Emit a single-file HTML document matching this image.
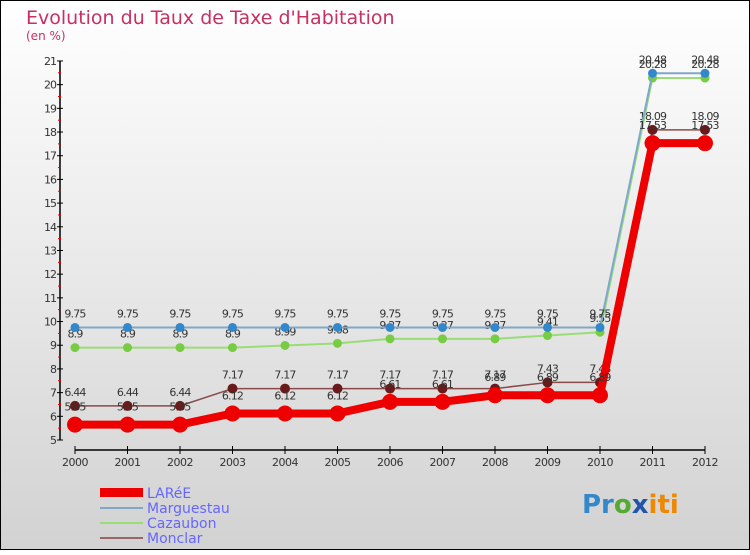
<!DOCTYPE html>
<html><head><meta charset="utf-8"><style>
body{margin:0}
svg text{font-family:"DejaVu Sans","Liberation Sans",sans-serif}
</style></head><body>
<svg width="750" height="550" xmlns="http://www.w3.org/2000/svg">
<defs><linearGradient id="bg" x1="0" y1="0" x2="0" y2="1"><stop offset="0" stop-color="#ffffff"/><stop offset="1" stop-color="#d2d2d2"/></linearGradient></defs>
<rect x="0.5" y="0.5" width="749" height="549" fill="url(#bg)" stroke="#000"/>
<text x="26" y="24" font-size="19" fill="#c8305f">Evolution du Taux de Taxe d'Habitation</text>
<text x="26" y="40" font-size="12" fill="#c8305f">(en %)</text>
<g id="axes"></g><g id="series"></g>
<g>
<rect x="100" y="488" width="43" height="9" fill="#ee0000"/>
<text x="147" y="498" font-size="14" fill="#6666ff">LARéE</text>
<line x1="100" x2="143" y1="508" y2="508" stroke="#7fa8c8" stroke-width="2"/>
<text x="147" y="513" font-size="14" fill="#6666ff">Marguestau</text>
<line x1="100" x2="143" y1="523" y2="523" stroke="#99dd77" stroke-width="2"/>
<text x="147" y="528" font-size="14" fill="#6666ff">Cazaubon</text>
<line x1="100" x2="143" y1="538" y2="538" stroke="#996666" stroke-width="2"/>
<text x="147" y="543" font-size="14" fill="#6666ff">Monclar</text>
</g>
<text x="582" y="513" font-size="26" font-weight="bold"><tspan fill="#3388cc">Pr</tspan><tspan fill="#55aa33">o</tspan><tspan fill="#2255aa">x</tspan><tspan fill="#ee8800">iti</tspan></text>
</svg>
<script>
const years=["2000","2001","2002","2003","2004","2005","2006","2007","2008","2009","2010","2011","2012"];
const yTicks=[5,6,7,8,9,10,11,12,13,14,15,16,17,18,19,20,21];
const laree=[5.65,5.65,5.65,6.12,6.12,6.12,6.61,6.61,6.89,6.89,6.89,17.53,17.53];
const marguestau=[9.75,9.75,9.75,9.75,9.75,9.75,9.75,9.75,9.75,9.75,9.75,20.48,20.48];
const cazaubon=[8.9,8.9,8.9,8.9,8.99,9.08,9.27,9.27,9.27,9.41,9.55,20.28,20.28];
const monclar=[6.44,6.44,6.44,7.17,7.17,7.17,7.17,7.17,7.17,7.43,7.43,18.09,18.09];
const NS="http://www.w3.org/2000/svg";
const xS=i=>75+i*52.5;
const yS=v=>440-(v-5)*23.69;
function mk(t,a,p){const e=document.createElementNS(NS,t);for(const k in a)e.setAttribute(k,a[k]);p.appendChild(e);return e;}
const ax=document.getElementById('axes');
let e=mk('line',{x1:60,x2:60,y1:yS(21),y2:yS(5),stroke:'#000','stroke-width':1.5},ax);


e=mk('line',{x1:xS(0),x2:xS(12),y1:450,y2:450,stroke:'#000','stroke-width':1.5},ax);


yTicks.forEach(v=>{
 mk('line',{x1:57,x2:63,y1:yS(v),y2:yS(v),stroke:'#000'},ax);
 if(v<21)mk('line',{x1:58,x2:61,y1:yS(v+0.5),y2:yS(v+0.5),stroke:'#e00'},ax);
 const t=mk('text',{x:56,y:yS(v)+4,'font-size':11,'text-anchor':'end',fill:'#333','letter-spacing':'-1'},ax);
 t.textContent=v;
 
 
});
years.forEach((y,i)=>{
 mk('line',{x1:xS(i),x2:xS(i),y1:446,y2:454,stroke:'#000'},ax);
 const t=mk('text',{x:xS(i),y:466,'font-size':11,'text-anchor':'middle',fill:'#333','letter-spacing':'-0.5'},ax);
 t.textContent=y;
 
 
});
const sg=document.getElementById('series');
function draw(arr,name,col,w,r,dot,lblDy){
 const g=mk('g',{},sg);
 
 
 const p=mk('polyline',{points:arr.map((v,i)=>xS(i)+','+yS(v)).join(' '),fill:'none',stroke:col,'stroke-width':w,'stroke-linejoin':'round'},g);
 
 
 arr.forEach((v,i)=>{
  const c=mk('circle',{cx:xS(i),cy:yS(v),r:r,fill:dot},g);
  
  
  const t=mk('text',{x:xS(i),y:yS(v)+lblDy,'font-size':11,'text-anchor':'middle',fill:'#333','letter-spacing':'-0.8'},g);
  t.textContent=v;
  
  
 });
}
draw(monclar,'monclar','#8a4a4a',1.5,5,'#6a1a1a',-10);
draw(cazaubon,'cazaubon','#99dd77',2,4.5,'#77cc44',-10);
draw(marguestau,'marguestau','#7fa8c8',2,4.5,'#3388cc',-10);
draw(laree,'laree','#ee0000',8,8,'#ee0000',-14);
</script>
</body></html>
